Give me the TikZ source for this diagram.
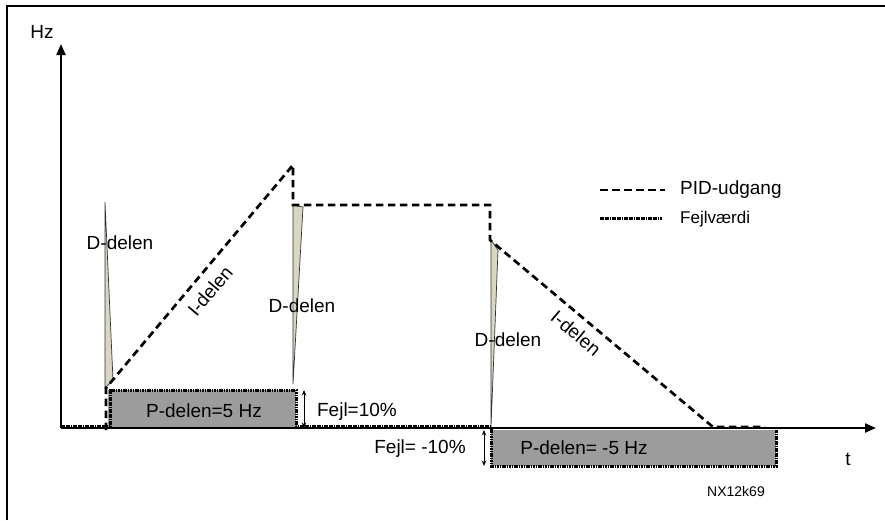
\documentclass[tikz,border=0pt]{standalone}
\usepackage{fontspec}
\setmainfont{Liberation Sans}
\usetikzlibrary{arrows.meta}
\definecolor{wedgefill}{HTML}{D9D6C2}
\definecolor{boxgray}{HTML}{9C9C9C}
\begin{document}
\begin{tikzpicture}[x=1pt,y=-1pt,
  pid/.style={line width=2.7pt, dash pattern=on 7.5pt off 4.5pt},
  fejlline/.style={line width=3pt, dash pattern=on 1.7pt off 0.7pt},
  pbox/.style={fill=boxgray},
  dwedge/.style={fill=wedgefill, draw=black!80, line width=0.7pt, line join=miter},
  axis/.style={line width=2.2pt, -{Triangle[length=11pt,width=9pt]}},
  fejlarrow/.style={line width=0.9pt, {Stealth[length=5.5pt,width=4.5pt]}-{Stealth[length=5.5pt,width=4.5pt]}},
  lbl/.style={font=\fontsize{19}{22}\selectfont, inner sep=0pt},
  lbls/.style={font=\fontsize{17}{20}\selectfont, inner sep=0pt},
  frame/.style={line width=2.2pt}]
\useasboundingbox (0,0) rectangle (885,520);
\fill[white] (0,0) rectangle (885,520);
\draw[frame] (7,520) -- (7,6) -- (885,6);

% coordinates
\coordinate (O) at (61,428);
\coordinate (ytop) at (61,44);
\coordinate (xend) at (876,428);

% P boxes
\fill[pbox] (108,390) rectangle (296,428);
\fill[pbox] (491,430) rectangle (776,466);

% axes
\draw[axis] (O) -- (ytop);
\draw[axis] (O) -- (xend);

% D wedges
\draw[dwedge] (105,202) -- (113,380) -- (105,388) -- cycle;
\draw[dwedge] (293,205) -- (303,207) -- (293,384) -- cycle;
\draw[dwedge] (491,240) -- (498,250) -- (491,427) -- cycle;

% error signal (dotted)
\coordinate (e1) at (61,426.5);
\coordinate (e2) at (110,426.5);
\coordinate (e3) at (110,390);
\coordinate (e4) at (296,390);
\coordinate (e5) at (296,426.5);
\coordinate (e6) at (491,426.5);
\coordinate (e7) at (491,466);
\coordinate (e8) at (776,466);
\coordinate (e9) at (776,430);
\draw[fejlline] (e1) -- (e2) -- (e3) -- (e4) -- (e5) -- (e6);
\draw[fejlline] (e6) -- (e7) -- (e8) -- (e9);

% PID output (dashed)
\coordinate (p1) at (106,430);
\coordinate (p2) at (106,388);
\coordinate (p3) at (293,165);
\coordinate (p4) at (293,205);
\coordinate (p5) at (490,205);
\coordinate (p6) at (490,240);
\coordinate (p7) at (713,427);
\coordinate (p8) at (765,427);
\draw[pid] (p1) -- (p2) -- (p3) -- (p4) -- (p5) -- (p6) -- (p7) -- (p8);

% Fejl arrows
\coordinate (fa1) at (304,390);
\coordinate (fb1) at (304,428);
\coordinate (fa2) at (484,430);
\coordinate (fb2) at (484,466);
\draw[fejlarrow] (fa1) -- (fb1);
\draw[fejlarrow] (fa2) -- (fb2);

% labels
\node[lbl] (hz) at (42,32) {Hz};
\node[lbl] (t) at (848,459) {t};
\node[lbl] (d1) at (120,243) {D-delen};
\node[lbl] (d2) at (302,306) {D-delen};
\node[lbl] (d3) at (508,340) {D-delen};
\node[lbl, rotate=50] (i1) at (210,291) {I-delen};
\node[lbl, rotate=-40] (i2) at (576,333) {I-delen};
\node[lbl] (pp) at (204,411) {P-delen=5 Hz};
\node[lbl] (pn) at (584,448) {P-delen= -5 Hz};
\node[lbl] (f1) at (357,412) {Fejl=10\%};
\node[lbl] (f2) at (420,449) {Fejl= -10\%};
\node[font=\fontsize{14}{16}\selectfont, inner sep=0pt] (nx) at (736,491) {NX12k69};

% legend
\coordinate (la1) at (600,190);
\coordinate (la2) at (665,190);
\coordinate (lb1) at (600,218);
\coordinate (lb2) at (662,218);
\draw[pid] (la1) -- (la2);
\draw[fejlline] (lb1) -- (lb2);
\node[lbl, anchor=west] (lpid) at (680,190) {PID-udgang};
\node[lbls, anchor=west] (lfejl) at (680,219) {Fejlværdi};
\end{tikzpicture}
\end{document}
